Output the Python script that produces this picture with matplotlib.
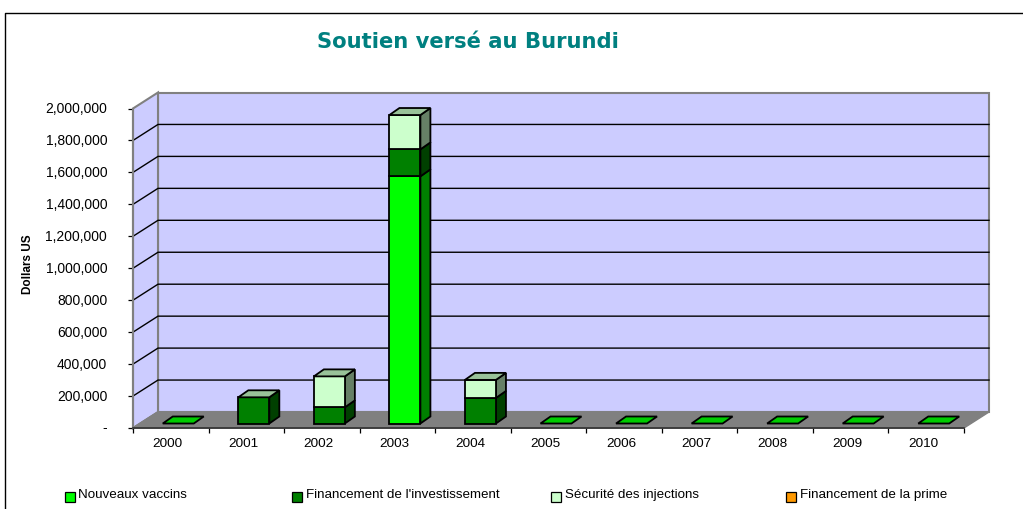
import matplotlib
matplotlib.use('Agg')
import matplotlib.pyplot as plt
import numpy as np
from matplotlib.patches import Polygon, Rectangle
from matplotlib.transforms import ScaledTranslation

years = ['2000', '2001', '2002', '2003', '2004', '2005', '2006', '2007', '2008', '2009', '2010']
nouveaux_vaccins = [0, 0, 0, 1547000, 0, 0, 0, 0, 0, 0, 0]
investissement = [0, 164000, 101000, 169000, 160000, 0, 0, 0, 0, 0, 0]
securite = [0, 0, 194000, 215000, 113000, 0, 0, 0, 0, 0, 0]
prime = [0, 0, 0, 0, 0, 0, 0, 0, 0, 0, 0]
y_ticks = [0, 200000, 400000, 600000, 800000, 1000000, 1200000, 1400000, 1600000, 1800000, 2000000]
legend_labels = ['Nouveaux vaccins', "Financement de l'investissement", 'Sécurité des injections', 'Financement de la prime']

W, H = 1023, 509
plt.rcParams['font.family'] = ['Liberation Sans', 'DejaVu Sans']

fig = plt.figure(figsize=(W / 100, H / 100), dpi=100)
ax = fig.add_axes([133 / W, (H - 428) / H, 831 / W, 319.5 / H])
ax.set_xlim(-0.5, 10.5)
ax.set_ylim(0, 2000000)

# pixel sizes converted to data units for the fake 3D
px_x = 11 / 831
px_y = 2000000 / 319.5
wall_dx, wall_dy = 25 * px_x, 16 * px_y
bar_dx, bar_dy = 10 * px_x, 7 * px_y
off_x, off_y = 7.5 * px_x, 4.5 * px_y
bar_w = 31 * px_x

x0, x1 = -0.5, 10.5
top = 2000000
grey = '#808080'


def poly(pts, fc, ec='black', lw=1.3, z=2):
    ax.add_patch(Polygon(pts, closed=True, facecolor=fc, edgecolor=ec, linewidth=lw,
                         zorder=z, clip_on=False, joinstyle='miter'))


# walls and floor
poly([(x0 + wall_dx, wall_dy), (x1 + wall_dx, wall_dy), (x1 + wall_dx, top + wall_dy), (x0 + wall_dx, top + wall_dy)],
     '#CCCCFF', grey, 1.5, 1)
poly([(x0, 0), (x0 + wall_dx, wall_dy), (x0 + wall_dx, top + wall_dy), (x0, top)], '#CCCCFF', grey, 1.5, 1)
poly([(x0, 0), (x1, 0), (x1 + wall_dx, wall_dy), (x0 + wall_dx, wall_dy)], grey, grey, 1.0, 1)

# gridlines
for v in y_ticks[1:-1]:
    ax.plot([x0, x0 + wall_dx, x1 + wall_dx], [v, v + wall_dy, v + wall_dy], color='black', lw=1.0,
            zorder=1.5, clip_on=False)
ax.plot([x0, x0 + wall_dx], [0, wall_dy], color=grey, lw=1.0, zorder=1.5, clip_on=False)

# front, side and top colours of each series
series = [
    (nouveaux_vaccins, '#00FF00', '#008000', '#00CC00'),
    (investissement, '#008000', '#004000', '#99C299'),
    (securite, '#CCFFCC', '#668066', '#99C299'),
    (prime, '#FF9900', '#804D00', '#CC7A00'),
]

for i in range(len(years)):
    left = i - bar_w / 2 + off_x
    right = left + bar_w
    base = off_y
    top_col = None
    for vals, front, side, cap in series:
        v = vals[i]
        if v == 0:
            continue
        poly([(right, base), (right + bar_dx, base + bar_dy), (right + bar_dx, base + v + bar_dy), (right, base + v)],
             side, z=3 + i)
        poly([(left, base), (right, base), (right, base + v), (left, base + v)], front, z=3 + i)
        base += v
        top_col = cap
    if top_col is None:
        top_col = '#00CC00'
    poly([(left, base), (right, base), (right + bar_dx, base + bar_dy), (left + bar_dx, base + bar_dy)],
         top_col, z=3 + i)

# axes
for s in ['top', 'right']:
    ax.spines[s].set_visible(False)
ax.patch.set_visible(False)
ax.spines['left'].set_color(grey)
ax.spines['left'].set_linewidth(1.5)
ax.spines['bottom'].set_color('#303030')
ax.spines['bottom'].set_linewidth(1.2)
ax.spines['bottom'].set_zorder(20)
ax.set_yticks(y_ticks)
ax.set_yticklabels(['-' if v == 0 else f'{v:,}' for v in y_ticks])
ax.tick_params(axis='y', length=3.6, width=0.9, pad=15, labelsize=10)
for lab in ax.get_yticklabels():
    lab.set_transform(lab.get_transform() + ScaledTranslation(0, 1 / 100, fig.dpi_scale_trans))
ax.set_xticks(np.arange(-0.5, 11, 1))
ax.set_xticklabels([])
ax.set_xticks(range(len(years)), labels=years, minor=True)
ax.tick_params(axis='x', which='major', length=3.6, width=0.9)
ax.tick_params(axis='x', which='minor', length=0, pad=7, labelsize=9.7)
for lab in ax.get_xticklabels(minor=True):
    lab.set_transform(lab.get_transform() + ScaledTranslation(-3 / 100, 0, fig.dpi_scale_trans))

fig.text(28 / W, 1 - 264 / H, 'Dollars US', fontsize=8.5, fontweight='bold', rotation=90, ha='center', va='center')

fig.text(468 / W, 1 - 41.5 / H, 'Soutien versé au Burundi', color='#008080', fontsize=15.2, fontweight='bold',
         family='DejaVu Sans', ha='center', va='center')

# legend
swatch_x = [64.5, 292, 551, 786]
legend_colors = ['#00FF00', '#008000', '#CCFFCC', '#FF9900']
for sx, lab, col in zip(swatch_x, legend_labels, legend_colors):
    fig.add_artist(Rectangle((sx / W, 1 - 502 / H), 10 / W, 10 / H, transform=fig.transFigure,
                             facecolor=col, edgecolor='black', linewidth=0.9))
    fig.text((sx + 14) / W, 1 - 495 / H, lab, fontsize=9.6, ha='left', va='center')

# outer frame
fig.add_artist(plt.Line2D([5 / W, 5 / W, 1], [0, 1 - 13 / H, 1 - 13 / H], color='black', lw=1.0))

fig.savefig('out.png', dpi=100)
